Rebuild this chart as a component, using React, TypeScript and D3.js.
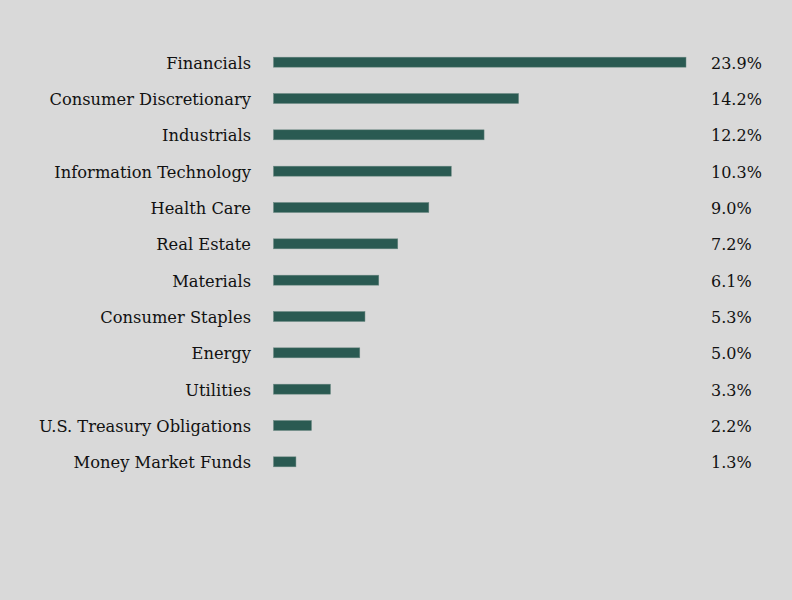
import React from "react";
import * as d3 from "d3";

const categories = [
  "Financials",
  "Consumer Discretionary",
  "Industrials",
  "Information Technology",
  "Health Care",
  "Real Estate",
  "Materials",
  "Consumer Staples",
  "Energy",
  "Utilities",
  "U.S. Treasury Obligations",
  "Money Market Funds",
];
const values = [23.9, 14.2, 12.2, 10.3, 9.0, 7.2, 6.1, 5.3, 5.0, 3.3, 2.2, 1.3];
const valueLabels = ["23.9%", "14.2%", "12.2%", "10.3%", "9.0%", "7.2%", "6.1%", "5.3%", "5.0%", "3.3%", "2.2%", "1.3%"];

const W = 792;
const H = 600;

export default function App() {
  const x = d3.scaleLinear().domain([0, 23.9]).range([273.5, 686]);
  const y = d3.scaleBand<string>().domain(categories).range([44, 480]).paddingInner(0.725).paddingOuter(0.3625);
  const font = "'DejaVu Serif', Georgia, serif";
  return (
    <svg width={W} height={H} style={{ position: "absolute", left: 0, top: 0, background: "#d9d9d9" }}>
      <rect x={0} y={0} width={W} height={H} fill="#d9d9d9" />
      {categories.map((c, i) => {
        const yc = (y(c) as number) + y.bandwidth() / 2 + 1;
        return (
          <g key={c}>
            <text x={251} y={yc} textAnchor="end" dominantBaseline="central" fontFamily={font} fontSize={16.3} fill="#111">
              {c}
            </text>
            <rect
              x={x(0)}
              y={y(c) as number}
              width={x(values[i]) - x(0)}
              height={y.bandwidth()}
              fill="#2a5a52"
              stroke="#6a8882"
              strokeWidth={0.5}
            />
            <text x={711} y={yc} textAnchor="start" dominantBaseline="central" fontFamily={font} fontSize={16} fill="#111">
              {valueLabels[i]}
            </text>
          </g>
        );
      })}
    </svg>
  );
}
